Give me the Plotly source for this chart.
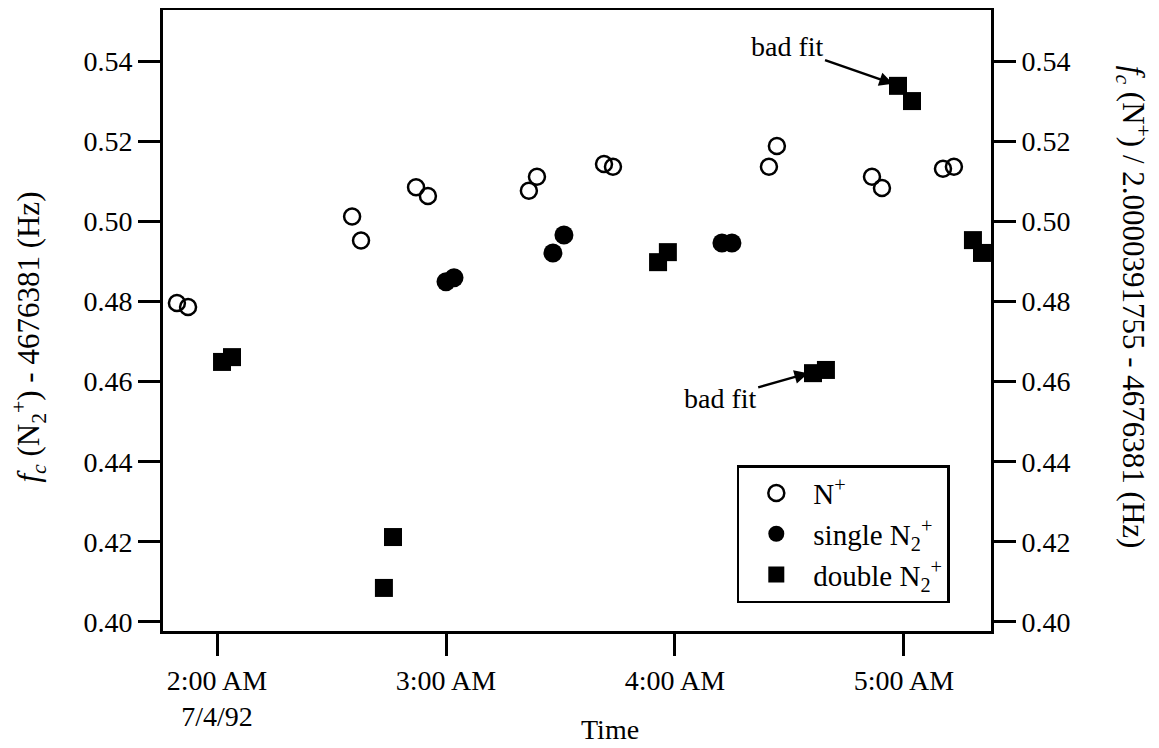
import plotly.graph_objects as go

DATE = "1992-07-04 "

# N+ (open circles)
n_plus_times = ["01:49:30", "01:52:25", "02:35:24", "02:37:44", "02:52:09", "02:55:16",
                "03:21:43", "03:23:50", "03:41:24", "03:43:45", "04:24:37", "04:26:42",
                "04:51:37", "04:54:14", "05:10:13", "05:13:05"]
n_plus_values = [0.4796, 0.4786, 0.5012, 0.4952, 0.5085, 0.5063,
                 0.5076, 0.5111, 0.5143, 0.5136, 0.5136, 0.5188,
                 0.5111, 0.5083, 0.5131, 0.5136]

# single N2+ (filled circles)
single_times = ["03:00:00", "03:02:06", "03:28:01", "03:30:54", "04:12:18", "04:14:55"]
single_values = [0.4849, 0.4859, 0.4921, 0.4966, 0.4946, 0.4946]

# double N2+ (filled squares)
double_times = ["02:01:19", "02:03:56", "02:43:44", "02:46:07", "03:55:34", "03:58:08",
                "04:36:10", "04:39:33", "04:58:26", "05:02:06", "05:18:04", "05:20:26"]
double_values = [0.4649, 0.4661, 0.4085, 0.4212, 0.4898, 0.4923,
                 0.4621, 0.4629, 0.5338, 0.5300, 0.4953, 0.4921]

x_tick_times = ["02:00:00", "03:00:00", "04:00:00", "05:00:00"]
x_tick_labels = ["2:00 AM<br>7/4/92", "3:00 AM", "4:00 AM", "5:00 AM"]
y_ticks = [0.40, 0.42, 0.44, 0.46, 0.48, 0.50, 0.52, 0.54]
y_tick_labels = ["0.40", "0.42", "0.44", "0.46", "0.48", "0.50", "0.52", "0.54"]

# annotations: ("bad fit" pointing at the bad squares)
bad_fit_points = [("04:57:08", 0.5343), ("04:34:54", 0.4621)]
bad_fit_offsets = [(-106, -37), (-88, 25)]

FONT = "Liberation Serif"
FS = 28
TFS = 31

def t(lst):
    return [DATE + s for s in lst]

fig = go.Figure()
fig.add_trace(go.Scatter(
    x=t(n_plus_times), y=n_plus_values, mode="markers", name="N<sup>+</sup>",
    marker=dict(symbol="circle-open", size=16, color="black", line=dict(width=2.5, color="black")),
    cliponaxis=False))
fig.add_trace(go.Scatter(
    x=t(single_times), y=single_values, mode="markers", name="single N<sub>2</sub><sup>+</sup>",
    marker=dict(symbol="circle", size=19, color="black", line=dict(width=0)),
    cliponaxis=False))
fig.add_trace(go.Scatter(
    x=t(double_times), y=double_values, mode="markers", name="double N<sub>2</sub><sup>+</sup>",
    marker=dict(symbol="square", size=18, color="black", line=dict(width=0)),
    cliponaxis=False))
# invisible trace to activate right axis
fig.add_trace(go.Scatter(x=t(["03:00:00"]), y=[0.5], yaxis="y2", mode="markers",
                         marker=dict(opacity=0), showlegend=False, hoverinfo="skip"))

yr = [0.39775, 0.55273]
axis_common = dict(ticks="outside", ticklen=22, tickwidth=2.5, tickcolor="black",
                   showline=True, linewidth=3, linecolor="black",
                   showgrid=False, zeroline=False, automargin=False,
                   tickfont=dict(family=FONT, size=FS))
# the page body adds an 8px offset, so the figure is 8px smaller and margins shifted
fig.update_layout(
    width=1151, height=740,
    margin=dict(l=155, r=168, t=2, b=117, autoexpand=False),
    paper_bgcolor="white", plot_bgcolor="white",
    font=dict(family=FONT, size=FS, color="black"),
    xaxis=dict(range=[DATE + "01:45:51", DATE + "05:22:48"],
               tickvals=t(x_tick_times), ticktext=x_tick_labels, mirror=True, **axis_common),
    yaxis=dict(range=yr, tickvals=y_ticks, ticktext=y_tick_labels, mirror=True, **axis_common),
    yaxis2=dict(range=yr, tickvals=y_ticks, ticktext=y_tick_labels, overlaying="y",
                side="right", **axis_common),
    legend=dict(x=0.693, y=0.267, xanchor="left", yanchor="top",
                bordercolor="black", borderwidth=2.5, bgcolor="white",
                itemwidth=64, font=dict(family=FONT, size=29)),
    showlegend=True,
)

annotations = []
for (tm, v), (ax, ay) in zip(bad_fit_points, bad_fit_offsets):
    annotations.append(dict(
        x=DATE + tm, y=v, xref="x", yref="y", ax=ax, ay=ay,
        text="bad fit", showarrow=True, arrowhead=2, arrowsize=1.1, arrowwidth=2.5,
        arrowcolor="black", font=dict(family=FONT, size=FS)))

annotations.append(dict(
    x=-0.1615, y=0.473, xref="paper", yref="paper", showarrow=False, textangle=-90,
    text="<i>f</i><sub><i>c</i></sub> (N<sub>2</sub><sup>+</sup>) - 4676381 (Hz)",
    xanchor="center", yanchor="middle", font=dict(family=FONT, size=TFS)))
annotations.append(dict(
    x=1.1715, y=0.522, xref="paper", yref="paper", showarrow=False, textangle=90,
    text="<i>f</i><sub><i>c</i></sub> (N<sup>+</sup>) / 2.0000391755 - 4676381 (Hz)",
    xanchor="center", yanchor="middle", font=dict(family=FONT, size=TFS)))
annotations.append(dict(
    x=0.54, y=-0.159, xref="paper", yref="paper", showarrow=False,
    text="Time", xanchor="center", yanchor="middle", font=dict(family=FONT, size=FS)))
fig.update_layout(annotations=annotations)

fig.write_html("out.html")
